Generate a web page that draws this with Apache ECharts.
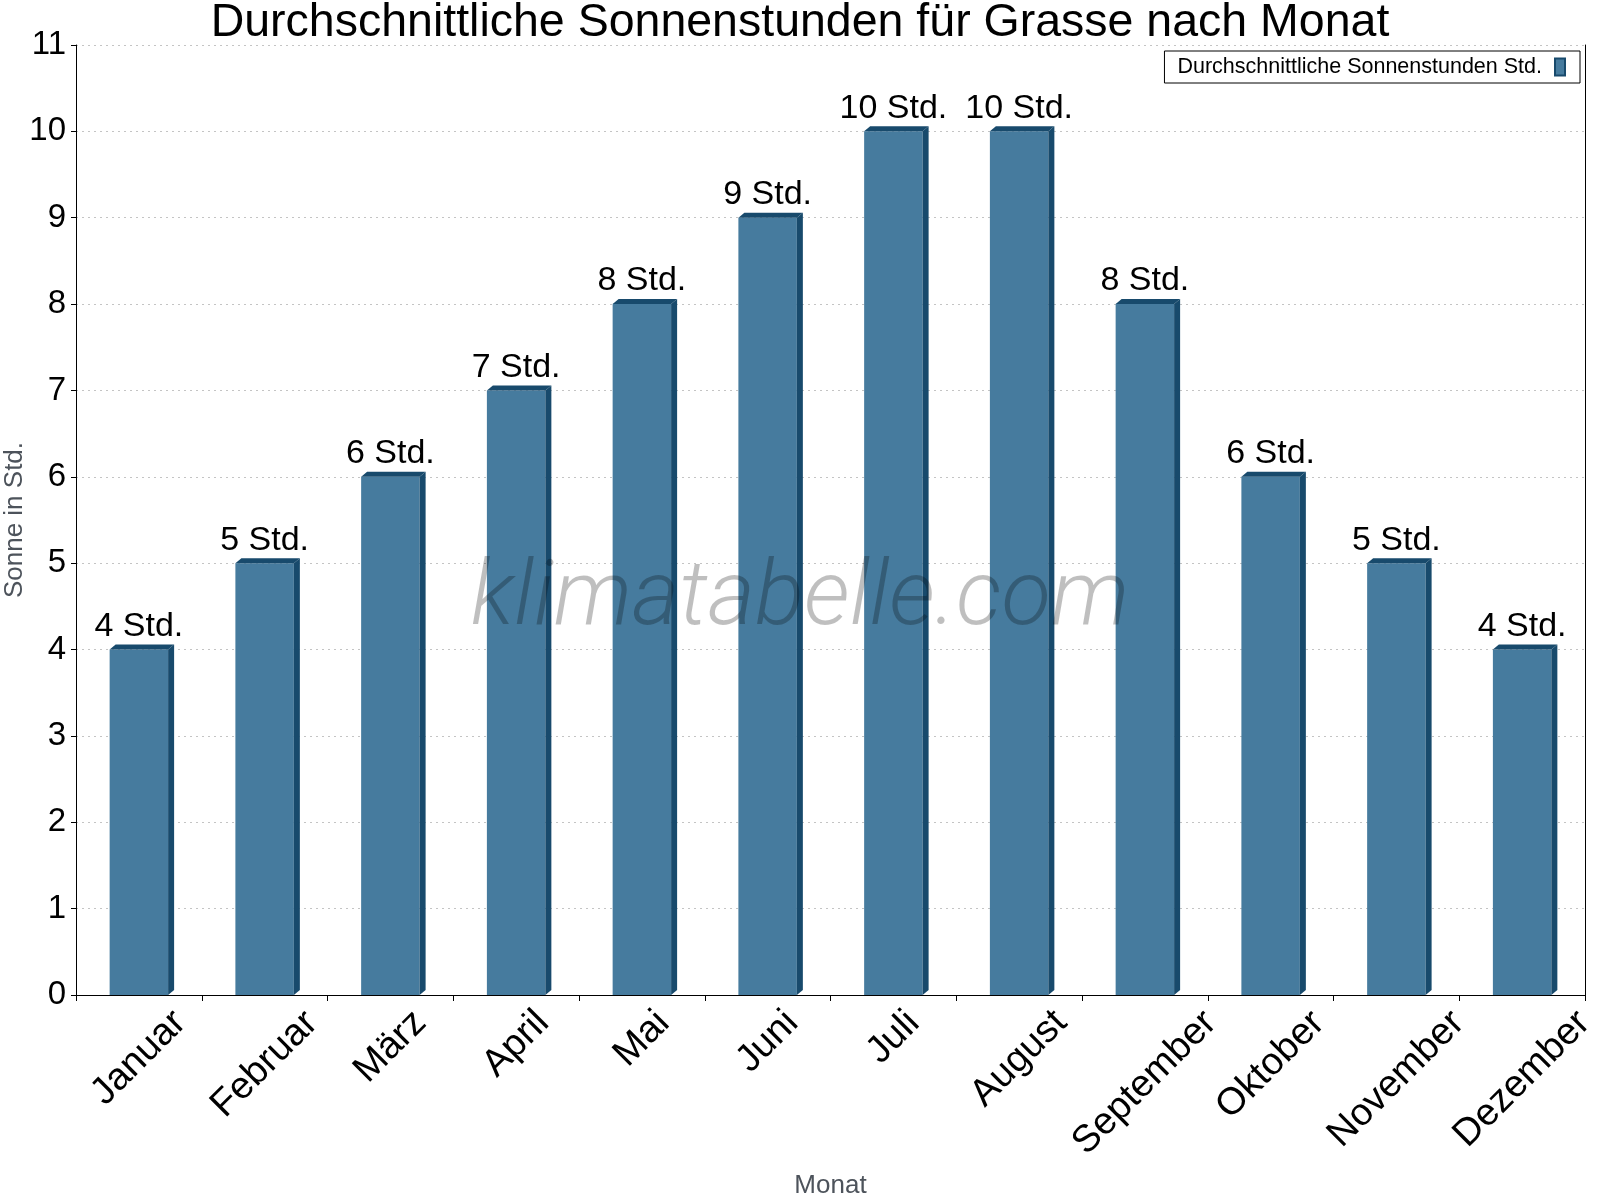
<!DOCTYPE html>
<html>
<head>
<meta charset="utf-8">
<script src="https://cdn.jsdelivr.net/npm/echarts@6/dist/echarts.min.js"></script>
<style>
  html, body { margin: 0; padding: 0; background: #fff; }
  #main { width: 1600px; height: 1200px; }
</style>
</head>
<body>
<div id="main"></div>
<script>
var months = ['Januar', 'Februar', 'März', 'April', 'Mai', 'Juni', 'Juli', 'August', 'September', 'Oktober', 'November', 'Dezember'];
var sunHours = [4, 5, 6, 7, 8, 9, 10, 10, 8, 6, 5, 4];
var seriesName = 'Durchschnittliche Sonnenstunden Std.';

var FRONT = '#467b9e';
var DARK = '#184a6c';
var FONT = 'Liberation Sans';
var MONTH_FS = 38;

// measure label widths so rotated labels hang centred under their category
var ctx = document.createElement('canvas').getContext('2d');
ctx.font = MONTH_FS + 'px "' + FONT + '"';
var rich = {};
months.forEach(function (m, i) {
    var p = Math.round(ctx.measureText(m).width / 2);
    rich['l' + i] = { fontSize: MONTH_FS, fontFamily: FONT, color: '#000', padding: [p, p, 0, 0] };
});

var chart = echarts.init(document.getElementById('main'));

function renderBar(params, api) {
    var idx = api.value(0), v = api.value(1);
    var top = api.coord([idx, v]);
    var base = api.coord([idx, 0]);
    var band = api.size([1, 0])[0];
    var w = band * 0.465, dx = 6, dy = 5;
    var x0 = top[0] - w / 2;
    return {
        type: 'group',
        children: [
            { type: 'rect', shape: { x: x0, y: top[1], width: w, height: base[1] - top[1] }, style: { fill: FRONT } },
            { type: 'polygon', shape: { points: [[x0 + w, top[1]], [x0 + w + dx, top[1] - dy], [x0 + w + dx, base[1] - dy], [x0 + w, base[1]]] }, style: { fill: DARK } },
            { type: 'polygon', shape: { points: [[x0, top[1]], [x0 + dx, top[1] - dy], [x0 + w + dx, top[1] - dy], [x0 + w, top[1]]] }, style: { fill: DARK } },
            { type: 'text', x: top[0], y: top[1] - 6, style: { text: v + ' Std.', fill: '#000', fontSize: 34, fontFamily: FONT, align: 'center', verticalAlign: 'bottom' } }
        ]
    };
}

var option = {
    backgroundColor: '#fff',
    textStyle: { fontFamily: FONT },
    title: {
        text: 'Durchschnittliche Sonnenstunden für Grasse nach Monat',
        left: 'center',
        top: 0,
        padding: 0,
        textStyle: { fontSize: 46.5, fontWeight: 'normal', color: '#000', fontFamily: FONT }
    },
    legend: {
        data: [seriesName],
        right: 20,
        top: 51,
        align: 'right',
        icon: 'rect',
        itemWidth: 10,
        itemHeight: 17,
        padding: [5, 14, 5, 13],
        borderColor: '#000',
        borderWidth: 1,
        textStyle: { fontSize: 21.5, color: '#000', fontFamily: FONT, padding: [0, 8, 0, 0] }
    },
    grid: { left: 76, right: 15, top: 45, bottom: 205, outerBoundsMode: 'none' },
    xAxis: {
        type: 'category',
        data: months,
        name: 'Monat',
        nameLocation: 'middle',
        nameGap: 178,
        nameMoveOverlap: false,
        nameTextStyle: { fontSize: 26, color: '#4d535b', fontFamily: FONT },
        axisLine: { lineStyle: { color: '#000', width: 1 } },
        axisTick: { show: true, length: 6, lineStyle: { color: '#000' } },
        axisLabel: {
            interval: 0,
            rotate: 45,
            align: 'center',
            verticalAlign: 'middle',
            margin: 22,
            formatter: function (v, i) { return '{l' + i + '|' + v + '}'; },
            rich: rich
        }
    },
    yAxis: [{
        type: 'value',
        min: 0,
        max: 11,
        interval: 1,
        name: 'Sonne in Std.',
        nameLocation: 'middle',
        nameGap: 48,
        nameMoveOverlap: false,
        nameTextStyle: { fontSize: 26, color: '#4d535b', fontFamily: FONT },
        axisLine: { show: true, lineStyle: { color: '#000', width: 1 } },
        axisTick: { show: true, length: 5, lineStyle: { color: '#000' } },
        axisLabel: { fontSize: 33, color: '#000', margin: 10, fontFamily: FONT },
        splitLine: { show: true, lineStyle: { color: '#c4c4c4', type: [2, 4] } }
    }, {
        type: 'value',
        position: 'right',
        min: 0,
        max: 11,
        axisLine: { show: true, lineStyle: { color: '#000', width: 1 } },
        axisTick: { show: false },
        axisLabel: { show: false },
        splitLine: { show: false }
    }],
    graphic: [{
        type: 'text',
        left: 'center',
        top: 556,
        z: 100,
        style: { text: 'klimatabelle.com', font: 'italic 300 91px Roboto', fill: 'rgba(0,0,0,0.25)' }
    }],
    series: [{
        name: seriesName,
        type: 'custom',
        renderItem: renderBar,
        itemStyle: { color: FRONT, borderColor: DARK, borderWidth: 1 },
        encode: { x: 0, y: 1 },
        data: sunHours.map(function (v, i) { return [i, v]; })
    }]
};
chart.setOption(option);
</script>
</body>
</html>
